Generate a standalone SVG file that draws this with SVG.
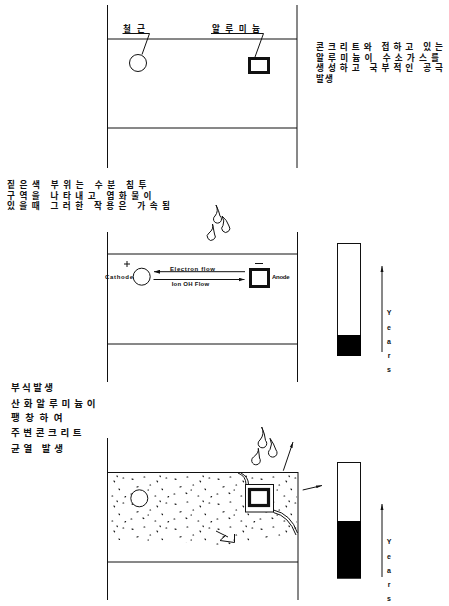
<svg xmlns="http://www.w3.org/2000/svg" width="449" height="606" viewBox="0 0 449 606">
<style>
  .ln{stroke:#111;stroke-width:1;fill:none}
  .kr{font-family:"Noto Sans CJK KR","Noto Sans",sans-serif;font-size:8.6px;font-weight:bold;fill:#111}
  .kr3{font-family:"Noto Sans CJK KR","Noto Sans",sans-serif;font-size:9.5px;font-weight:bold;fill:#111}
  .en{font-family:"Liberation Sans",Arial,sans-serif;font-size:6px;font-weight:bold;fill:#111}
  .yr{font-family:"Liberation Sans",Arial,sans-serif;font-size:7px;font-weight:bold;fill:#111;text-anchor:middle}
  .bar{fill:#fff;stroke:#111;stroke-width:1}
  .fill{fill:#000}
  .drop{stroke:#111;stroke-width:1;fill:none}
</style>
<defs>
  <marker id="headLong" markerUnits="userSpaceOnUse" markerWidth="6" markerHeight="12" refX="10" refY="2.5" orient="auto" viewBox="0 0 10 5">
    <path d="M0,0 L10,2.5 L0,5 z" fill="#111"/>
  </marker>
  <marker id="headSmall" markerUnits="userSpaceOnUse" markerWidth="6" markerHeight="4" refX="6" refY="2" orient="auto" viewBox="0 0 6 4">
    <path d="M0,0 L6,2 L0,4 z" fill="#111"/>
  </marker>
  <pattern id="stipple" patternUnits="userSpaceOnUse" width="43" height="25">
    <path d="M3 4l1 .4M15 2h.8M28 6l.6.8M37 3h.7M8 12l1-.3M21 10h.6M33 14l.5.7M2 19h.8M14 18l.8.5M26 21h.7M39 22l.6-.4M19 15h.5M31 1l.3.6" stroke="#111" stroke-width="1.2" stroke-linecap="round" fill="none"/>
  </pattern>
  <clipPath id="concreteZone">
    <polygon points="109,474 297,474 297,536 275,539 250,541 230,546 200,544 170,540 140,542 109,539"/>
  </clipPath>
</defs>

<!-- Stage 1: sound concrete with rebar and aluminium -->
<g id="stage1">
  <path class="ln" d="M107.5 5V168M297 5V168M107.5 39H297M107.5 128H297"/>
  <circle cx="138" cy="63" r="8.5" class="ln"/>
  <rect x="249.5" y="58.5" width="19" height="14" fill="#fff" stroke="#111" stroke-width="3"/>
  <text class="kr" x="123" y="32" textLength="22">철근</text>
  <path class="ln" d="M122.5 33.5H149.5L142 54.5"/>
  <text class="kr" x="212" y="32" textLength="48">알루미늄</text>
  <path class="ln" d="M211 33.5H263.5L255 57"/>
</g>

<g id="note1">
  <text class="kr">
    <tspan x="316" y="50" textLength="127">콘크리트와 접하고 있는</tspan>
    <tspan x="316" y="60.5" textLength="123">알루미늄이 수소가스를</tspan>
    <tspan x="316" y="71" textLength="127">생성하고 국부적인 공극</tspan>
    <tspan x="316" y="81.5" textLength="17">발생</tspan>
  </text>
</g>

<g id="note2">
  <text class="kr">
    <tspan x="7" y="188" textLength="139.5">짙은색 부위는 수분 침투</tspan>
    <tspan x="7" y="198.5" textLength="144.5">구역을 나타내고 염화물이</tspan>
    <tspan x="7" y="209" textLength="163">있을때 그러한 작용은 가속됨</tspan>
  </text>
</g>

<!-- Stage 2: galvanic cell between rebar and aluminium -->
<g id="stage2">
  <path class="ln" d="M107.5 232V382M297.5 232V382M107.5 254H297.5M107.5 344H297.5"/>
  <circle cx="141.7" cy="276.7" r="8.5" class="ln"/>
  <rect x="250.5" y="269.5" width="18" height="17" fill="#fff" stroke="#111" stroke-width="3"/>
  <path class="ln" d="M124 264h6M127 261v6M255 263.5h8"/>
  <text class="en" x="105" y="279" textLength="28">Cathode</text>
  <text class="en" x="272" y="279" textLength="17.5">Anode</text>
</g>

<g id="rain2" class="drop">
  <path d="M216 205Q219 211 215 216A4 4 0 1 0 220 216Q219 211 216 205"/>
  <path d="M212.5 224Q214 229 209 233A4 4 0 1 0 214.5 234Q213.5 229 212.5 224"/>
  <path d="M222 216Q225 221 223 225.5A4 4 0 1 0 229 226Q227 220 222 216"/>
</g>

<g id="connectors">
  <path class="ln" d="M245 271.7H154" marker-end="url(#headSmall)"/>
  <path class="ln" d="M153.5 279.5H244.5" marker-end="url(#headSmall)"/>
  <path class="ln" d="M382 352V266" marker-end="url(#headLong)"/>
  <path class="ln" d="M382 577V504" marker-end="url(#headLong)"/>
  <path class="ln" d="M283.3 470.7L293 442" marker-end="url(#headLong)"/>
  <path class="ln" d="M302.7 490L322 485.5" marker-end="url(#headLong)"/>
</g>

<g id="flowLabels" class="en">
  <text x="170" y="270.5" textLength="45">Electron flow</text>
  <text x="171.7" y="285.5" textLength="37.5">Ion OH Flow</text>
</g>

<!-- Service-life bars -->
<g id="bar2">
  <rect class="bar" x="337.5" y="243.5" width="23" height="112"/>
  <rect class="fill" x="337" y="335" width="24" height="21"/>
</g>
<g id="years2" class="yr">
  <text x="389" y="315">Y</text>
  <text x="389" y="330">e</text>
  <text x="389" y="344">a</text>
  <text x="389" y="358">r</text>
  <text x="389" y="372">s</text>
</g>

<g id="note3" class="kr3">
  <text x="11" y="391" textLength="42">부식발생</text>
  <text x="11" y="407" textLength="84.5">산화알루미늄이</text>
  <text x="11" y="421" textLength="51.5">팽창하여</text>
  <text x="11" y="436" textLength="70.5">주변콘크리트</text>
  <text x="11" y="452" textLength="52">균열 발생</text>
</g>

<!-- Stage 3: expansion and cracking -->
<g id="stage3">
  <rect x="109" y="473" width="189" height="75" fill="url(#stipple)" clip-path="url(#concreteZone)"/>
  <path class="ln" d="M107.5 438V600M298 472V600M107.5 472.5H298M107.5 562H298"/>
  <circle cx="139.3" cy="498.3" r="8.5" fill="#fff" stroke="#111" stroke-width="1"/>
  <rect x="245.5" y="484.5" width="28" height="27.5" fill="#fff" stroke="#111" stroke-width="1"/>
  <rect x="249.5" y="489.5" width="19" height="16" fill="#fff" stroke="#111" stroke-width="3.2"/>
  <path class="ln" d="M238 473Q246 476 246 484.5M241 473Q248.5 477 248.5 484.5"/>
  <path class="ln" d="M273.5 510Q291 514 297.5 533M273.5 512.5Q289 516 296 535"/>
  <path class="ln" d="M216 531L228 537M234.5 534V542.5L220 540.5L226 535"/>
</g>

<g id="rain3" class="drop">
  <path d="M261.7 427Q265 434 260 440A4.3 4.3 0 1 0 265.5 440.5Q265 434 261.7 427"/>
  <path d="M258.3 448.3Q259 453 253.5 457A4.3 4.3 0 1 0 259.5 458Q259 453 258.3 448.3"/>
  <path d="M270 438.3Q273 444 270 449.5A4.3 4.3 0 1 0 276 450Q274 444 270 438.3"/>
</g>

<g id="bar3">
  <rect class="bar" x="337.5" y="462.5" width="23" height="115.5"/>
  <rect class="fill" x="337" y="521" width="24" height="57.5"/>
</g>
<g id="years3" class="yr">
  <text x="389" y="544">Y</text>
  <text x="389" y="559">e</text>
  <text x="389" y="573">a</text>
  <text x="389" y="587">r</text>
  <text x="389" y="601">s</text>
</g>
</svg>
